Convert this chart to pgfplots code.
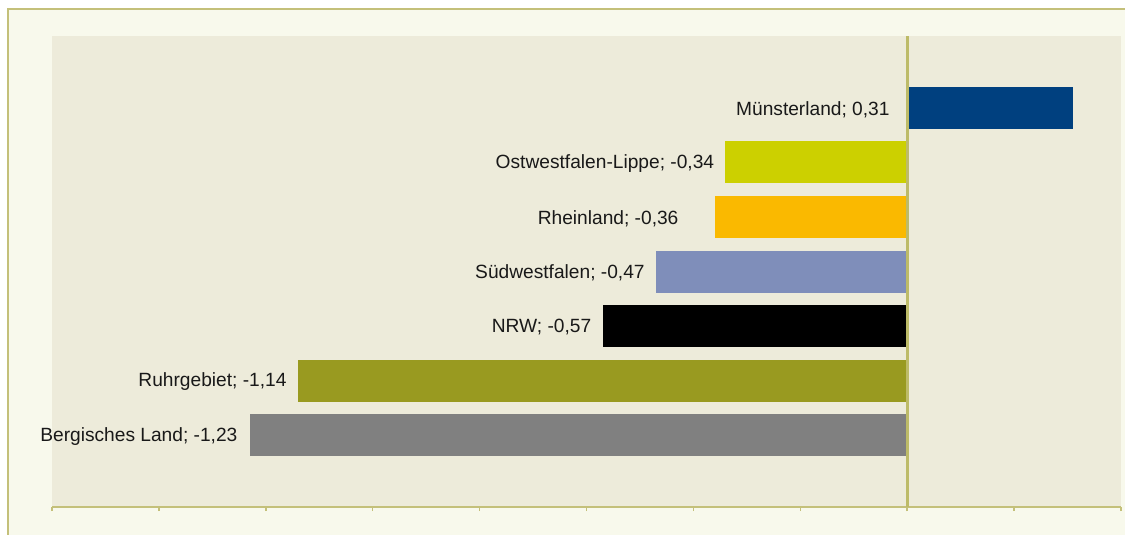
\documentclass[border=0pt]{standalone}
\usepackage{fontspec}
\setmainfont{Liberation Sans}
\usepackage{pgfplots}
\pgfplotsset{compat=1.18}
\definecolor{outerbg}{HTML}{F8F9EC}
\definecolor{plotbg}{HTML}{EDEBDA}
\definecolor{bordercol}{HTML}{C4C07A}
\definecolor{zerocol}{HTML}{BDBB68}
\definecolor{cMuenster}{HTML}{00407F}
\definecolor{cOstw}{HTML}{CCD000}
\definecolor{cRhein}{HTML}{FAB900}
\definecolor{cSued}{HTML}{7F8EBA}
\definecolor{cNRW}{HTML}{000000}
\definecolor{cRuhr}{HTML}{999A20}
\definecolor{cBerg}{HTML}{808080}
\newdimen\u
\u=0.6pt
\begin{document}
\begin{tikzpicture}[x=\u,y=\u]
\path[use as bounding box] (0,0) rectangle (1125,534);
\fill[outerbg] (8,-10) rectangle (1135,525);
\draw[bordercol, line width=2\u] (8,-10) -- (8,525) -- (1135,525);
\begin{axis}[
  at={(52\u,27\u)}, anchor=south west,
  scale only axis, width=1069\u, height=471\u,
  xmin=-1.6, xmax=0.4, ymin=-1.32, ymax=7.32,
  axis background/.style={fill=plotbg},
  axis x line=bottom, axis y line=none,
  axis line style={-, draw=bordercol, line width=2\u},
  xtick={-1.6,-1.4,...,0.41}, xticklabels={},
  ytick=\empty,
  tick align=outside, major tick length=4\u,
  every tick/.style={draw=bordercol, line width=1.5\u},
  extra x ticks={0}, extra x tick labels={},
  extra x tick style={grid=major, major grid style={draw=zerocol, line width=3\u}},
  axis on top,
  xbar, bar shift=0pt, bar width=42\u,
  nodes near coords,
  every node near coord/.append style={anchor=east, inner sep=0pt, yshift=-1.5\u, font=\fontsize{11.5}{13}\selectfont, text=black!90},
  clip=false,
]
\addplot[fill=cBerg, draw=none, nodes near coords={Bergisches Land; -1,23}, every node near coord/.append style={xshift=-12\u}] coordinates {(-1.23,0)};
\addplot[fill=cRuhr, draw=none, nodes near coords={Ruhrgebiet; -1,14}, every node near coord/.append style={xshift=-11\u}] coordinates {(-1.14,1)};
\addplot[fill=cNRW, draw=none, nodes near coords={NRW; -0,57}, every node near coord/.append style={xshift=-11\u}] coordinates {(-0.57,2)};
\addplot[fill=cSued, draw=none, nodes near coords={Südwestfalen; -0,47}, every node near coord/.append style={xshift=-11\u}] coordinates {(-0.47,3)};
\addplot[fill=cRhein, draw=none, nodes near coords={Rheinland; -0,36}, every node near coord/.append style={xshift=-36\u}] coordinates {(-0.36,4)};
\addplot[fill=cOstw, draw=none, nodes near coords={Ostwestfalen-Lippe; -0,34}, every node near coord/.append style={xshift=-11\u}] coordinates {(-0.34,5)};
\addplot[fill=cMuenster, draw=none, nodes near coords={Münsterland; 0,31}, every node near coord/.append style={xshift=-183\u}] coordinates {(0.31,6)};
\end{axis}
\end{tikzpicture}
\end{document}
